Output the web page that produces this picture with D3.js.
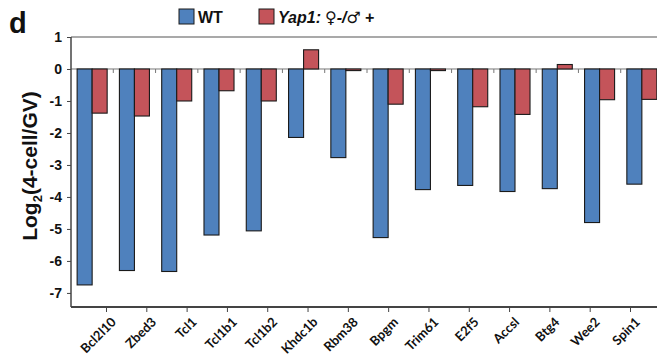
<!DOCTYPE html>
<html>
<head>
<meta charset="utf-8">
<script src="https://cdn.jsdelivr.net/npm/d3@7"></script>
<style>
  body { margin: 0; background: #fff; }
  svg { display: block; }
</style>
</head>
<body>
<div id="chart"></div>
<script>
// genes on the x axis
const genes = ["Bcl2l10", "Zbed3", "Tcl1", "Tcl1b1", "Tcl1b2", "Khdc1b", "Rbm38",
               "Bpgm", "Trim61", "E2f5", "Accsl", "Btg4", "Wee2", "Spin1"];
// log2(4-cell/GV)
const wtValues   = [-6.75, -6.3, -6.33, -5.19, -5.06, -2.14, -2.77, -5.27, -3.77, -3.64, -3.83, -3.74, -4.8, -3.6];
const yap1Values = [-1.38, -1.47, -1.0, -0.68, -1.0, 0.6, -0.05, -1.1, -0.05, -1.18, -1.42, 0.14, -0.96, -0.95];
const yTicks = [1, 0, -1, -2, -3, -4, -5, -6, -7];
const seriesKeys = ["WT", "Yap1"];

const W = 657, H = 356;
const COL_WT = "#4f81bd";
const COL_YAP = "#c4545a";

const rows = genes.map((g, i) => ({ gene: g, WT: wtValues[i], Yap1: yap1Values[i] }));

const svg = d3.select("#chart").append("svg")
  .attr("width", W).attr("height", H)
  .style("font-family", "'Liberation Sans', Arial, sans-serif");

// scales
const y = d3.scaleLinear().domain([-7.44, 1]).range([307, 37]);
const x0 = d3.scaleBand().domain(genes).range([71, 663]).paddingInner(0.29).paddingOuter(0.145);
const x1 = d3.scaleBand().domain(seriesKeys).range([0, x0.bandwidth()]);
// the category labels sit on their own (slightly tighter) spacing in the figure
const xLab = d3.scalePoint().domain(genes).range([106, 630]);

// frame top line
svg.append("line")
  .attr("x1", 71).attr("x2", W).attr("y1", 37).attr("y2", 37)
  .attr("stroke", "#555").attr("stroke-width", 1.2);

// zero line with small ticks between groups
svg.append("line")
  .attr("x1", 71).attr("x2", W).attr("y1", y(0)).attr("y2", y(0))
  .attr("stroke", "#777").attr("stroke-width", 1);
svg.append("g").selectAll("line")
  .data(genes.slice(0, -1))
  .join("line")
  .attr("x1", d => x0(d) + x0.bandwidth() + x0.step() * x0.paddingInner() / 2)
  .attr("x2", d => x0(d) + x0.bandwidth() + x0.step() * x0.paddingInner() / 2)
  .attr("y1", y(0)).attr("y2", y(0) + 4)
  .attr("stroke", "#777");

// bars
const groups = svg.append("g").selectAll("g")
  .data(rows)
  .join("g")
  .attr("transform", d => `translate(${x0(d.gene)},0)`);

groups.selectAll("rect")
  .data(d => seriesKeys.map(k => ({ key: k, value: d[k] })))
  .join("rect")
  .attr("x", d => x1(d.key))
  .attr("width", x1.bandwidth())
  .attr("y", d => y(Math.max(0, d.value)))
  .attr("height", d => Math.abs(y(d.value) - y(0)))
  .attr("fill", d => d.key === "WT" ? COL_WT : COL_YAP)
  .attr("stroke", "#1a1a1a")
  .attr("stroke-width", 1.1);

// y axis
const yAxis = svg.append("g")
  .attr("transform", "translate(71,0)")
  .call(d3.axisLeft(y).tickValues(yTicks).tickSize(4).tickPadding(5).tickFormat(d => String(d)));
yAxis.select(".domain").attr("stroke", "#444").attr("stroke-width", 1.5)
  .attr("d", "M0,37V307");
yAxis.selectAll(".tick line").attr("stroke", "#444");
yAxis.selectAll("text")
  .attr("font-size", 14).attr("font-weight", "bold").attr("fill", "#111")
  .style("font-family", "'Liberation Sans', Arial, sans-serif");

// x axis
const xAxis = svg.append("g")
  .attr("transform", "translate(0,307)")
  .call(d3.axisBottom(xLab).tickSize(5).tickFormat(""));
xAxis.select(".domain").attr("stroke", "#444").attr("stroke-width", 1.8)
  .attr("d", `M71,0H${W}`);
xAxis.selectAll(".tick line").attr("stroke", "#444");

svg.append("g").selectAll("text")
  .data(genes)
  .join("text")
  .attr("transform", d => `translate(${xLab(d) + 4},${316}) rotate(-45)`)
  .attr("text-anchor", "end")
  .attr("dy", "0.75em")
  .attr("font-size", 13)
  .attr("font-weight", "bold")
  .attr("fill", "#111")
  .style("font-family", "Lato, 'Open Sans', sans-serif")
  .text(d => d);

// y axis title
svg.append("text")
  .attr("transform", "translate(37,166) rotate(-90)")
  .attr("text-anchor", "middle")
  .attr("font-size", 21)
  .attr("font-weight", "bold")
  .attr("fill", "#111")
  .call(t => {
    t.append("tspan").text("Log");
    t.append("tspan").attr("font-size", 13).attr("dy", 5).text("2");
    t.append("tspan").attr("dy", -5).text("(4-cell/GV)");
  });

// panel letter
svg.append("text")
  .attr("x", 9).attr("y", 33)
  .attr("font-size", 29).attr("font-weight", "bold").attr("fill", "#111")
  .text("d");

// legend
const legend = svg.append("g");
legend.append("rect").attr("x", 179).attr("y", 9).attr("width", 15).attr("height", 15)
  .attr("fill", COL_WT).attr("stroke", "#1a1a1a");
legend.append("text").attr("x", 198).attr("y", 23)
  .attr("font-size", 16).attr("font-weight", "bold").attr("fill", "#111").text("WT");
legend.append("rect").attr("x", 259).attr("y", 9).attr("width", 15).attr("height", 15)
  .attr("fill", COL_YAP).attr("stroke", "#1a1a1a");
legend.append("text").attr("x", 278).attr("y", 23)
  .attr("font-size", 16).attr("font-weight", "bold").attr("font-style", "italic").attr("fill", "#111")
  .call(t => {
    t.append("tspan").text("Yap1:");
    t.append("tspan").attr("dx", 4).style("font-family", "'DejaVu Sans', sans-serif").attr("font-style", "normal").text("\u2640");
    t.append("tspan").text("-/");
    t.append("tspan").style("font-family", "'DejaVu Sans', sans-serif").attr("font-style", "normal").text("\u2642");
    t.append("tspan").attr("dx", 4).text("+");
  });
</script>
</body>
</html>
